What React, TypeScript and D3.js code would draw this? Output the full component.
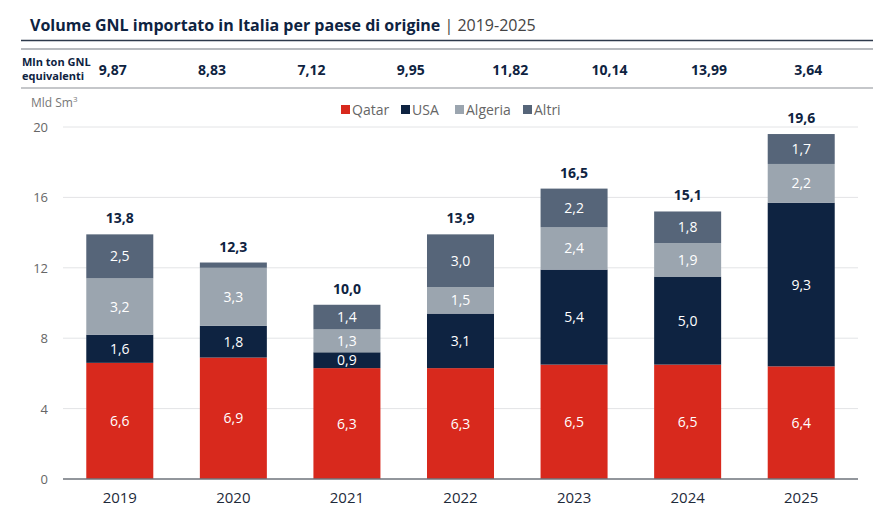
import React, { useRef, useEffect } from "react";
import * as d3 from "d3";

const years = ["2019", "2020", "2021", "2022", "2023", "2024", "2025"];
const seriesNames = ["Qatar", "USA", "Algeria", "Altri"];
const qatar = [6.6, 6.9, 6.3, 6.3, 6.5, 6.5, 6.4];
const usa = [1.6, 1.8, 0.9, 3.1, 5.4, 5.0, 9.3];
const algeria = [3.2, 3.3, 1.3, 1.5, 2.4, 1.9, 2.2];
const altri = [2.5, 0.3, 1.4, 3.0, 2.2, 1.8, 1.7];
const totals = [13.8, 12.3, 10.0, 13.9, 16.5, 15.1, 19.6];
const mlnTon = ["9,87", "8,83", "7,12", "9,95", "11,82", "10,14", "13,99", "3,64"];
const yTicks = [0, 4, 8, 12, 16, 20];

const colors = ["#D8291D", "#0E2341", "#9BA5AF", "#566579"];
const FONT = "'Open Sans', 'Noto Sans', sans-serif";

const fmt = (v: number) => v.toFixed(1).replace(".", ",");

const App = () => {
  const svgRef = useRef<SVGSVGElement>(null);

  useEffect(() => {
    const svg = d3.select(svgRef.current);
    svg.selectAll("*").remove();

    const W = 894;
    const H = 523;
    const left = 63;
    const right = 858;

    svg.attr("width", W).attr("height", H).style("font-family", FONT);

    // title
    const title = svg.append("text").attr("x", 30).attr("y", 31).attr("fill", "#0E2341").style("font-size", "16px");
    title.append("tspan").attr("font-weight", 700).text("Volume GNL importato in Italia per paese di origine");
    title.append("tspan").attr("fill", "#444").attr("font-weight", 400).text(" | 2019-2025");

    svg.append("line").attr("x1", 21).attr("x2", 873).attr("y1", 40.5).attr("y2", 40.5).attr("stroke", "#2E3A4C").attr("stroke-width", 1.5);
    svg.append("line").attr("x1", 21).attr("x2", 873).attr("y1", 49).attr("y2", 49).attr("stroke", "#A0A4AA").attr("stroke-width", 1.5);
    svg.append("line").attr("x1", 21).attr("x2", 873).attr("y1", 88).attr("y2", 88).attr("stroke", "#8C9096").attr("stroke-width", 1.2);

    // table row
    const rowLabel = svg.append("text").attr("x", 22).attr("fill", "#0E2341").attr("font-weight", 700).style("font-size", "11px");
    rowLabel.append("tspan").attr("x", 22).attr("y", 66).text("Mln ton GNL");
    rowLabel.append("tspan").attr("x", 22).attr("y", 80).text("equivalenti");

    const xRow = d3.scalePoint().domain(mlnTon.map((_, i) => String(i))).range([left, right]).padding(0.5);
    svg
      .selectAll(".mln")
      .data(mlnTon)
      .enter()
      .append("text")
      .attr("class", "mln")
      .attr("x", (_, i) => xRow(String(i)) as number)
      .attr("y", 75)
      .attr("text-anchor", "middle")
      .attr("fill", "#0E2341")
      .attr("font-weight", 700)
      .style("font-size", "14px")
      .text((d) => d);

    // scales
    const x = d3.scaleBand().domain(years).range([left, right]).paddingInner(0.41).paddingOuter(0.205);
    const y = d3.scaleLinear().domain([0, 20]).range([479, 127]);

    // unit label
    const unit = svg.append("text").attr("x", 31).attr("y", 107).attr("fill", "#777").style("font-size", "12px");
    unit.append("tspan").text("Mld Sm");
    unit.append("tspan").attr("dy", -5).style("font-size", "8px").text("3");

    // grid
    svg
      .selectAll(".grid")
      .data(yTicks.filter((t) => t > 0))
      .enter()
      .append("line")
      .attr("x1", left)
      .attr("x2", right)
      .attr("y1", (d) => y(d))
      .attr("y2", (d) => y(d))
      .attr("stroke", "#E3E4E6")
      .attr("stroke-width", 1);

    svg
      .selectAll(".ytick")
      .data(yTicks)
      .enter()
      .append("text")
      .attr("x", 48)
      .attr("y", (d) => y(d) + 5)
      .attr("text-anchor", "end")
      .attr("fill", "#666")
      .style("font-size", "13px")
      .text((d) => d);

    // legend
    const legendX = [341, 401, 455, 523];
    const legend = svg
      .selectAll(".legend")
      .data(seriesNames)
      .enter()
      .append("g")
      .attr("transform", (_, i) => `translate(${legendX[i]}, 105)`);
    legend.append("rect").attr("width", 9).attr("height", 9).attr("fill", (_, i) => colors[i]);
    legend
      .append("text")
      .attr("x", 11)
      .attr("y", 9.5)
      .attr("fill", "#666")
      .style("font-size", "14px")
      .text((d) => d);

    // stacked bars
    const table = years.map((yr, i) => ({ year: yr, Qatar: qatar[i], USA: usa[i], Algeria: algeria[i], Altri: altri[i] }));
    const stacked = d3.stack<any>().keys(seriesNames)(table);

    const layer = svg
      .selectAll(".layer")
      .data(stacked)
      .enter()
      .append("g")
      .attr("fill", (_, i) => colors[i]);

    layer
      .selectAll("rect")
      .data((d) => d)
      .enter()
      .append("rect")
      .attr("x", (d: any) => x(d.data.year) as number)
      .attr("y", (d) => y(d[1]))
      .attr("width", x.bandwidth())
      .attr("height", (d) => y(d[0]) - y(d[1]));

    layer
      .selectAll("text")
      .data((d) => d.filter((s) => s[1] - s[0] >= 0.5))
      .enter()
      .append("text")
      .attr("x", (d: any) => (x(d.data.year) as number) + x.bandwidth() / 2)
      .attr("y", (d) => (y(d[0]) + y(d[1])) / 2 + 5)
      .attr("text-anchor", "middle")
      .attr("fill", "#fff")
      .style("font-size", "14px")
      .text((d) => fmt(d[1] - d[0]));

    // baseline
    svg.append("line").attr("x1", left).attr("x2", right).attr("y1", y(0)).attr("y2", y(0)).attr("stroke", "#6E737B").attr("stroke-width", 1.5);

    // totals
    const top = stacked[stacked.length - 1];
    svg
      .selectAll(".total")
      .data(totals)
      .enter()
      .append("text")
      .attr("x", (_, i) => (x(years[i]) as number) + x.bandwidth() / 2)
      .attr("y", (_, i) => y(top[i][1]) - 11)
      .attr("text-anchor", "middle")
      .attr("fill", "#0E2341")
      .attr("font-weight", 700)
      .style("font-size", "14px")
      .text((d) => fmt(d));

    // x labels
    svg
      .selectAll(".xlab")
      .data(years)
      .enter()
      .append("text")
      .attr("x", (d) => (x(d) as number) + x.bandwidth() / 2)
      .attr("y", 503)
      .attr("text-anchor", "middle")
      .attr("fill", "#1E2A3A")
      .style("font-size", "15px")
      .text((d) => d);
  }, []);

  return <svg ref={svgRef} style={{ position: "absolute", left: 0, top: 0 }}></svg>;
};

export default App;
